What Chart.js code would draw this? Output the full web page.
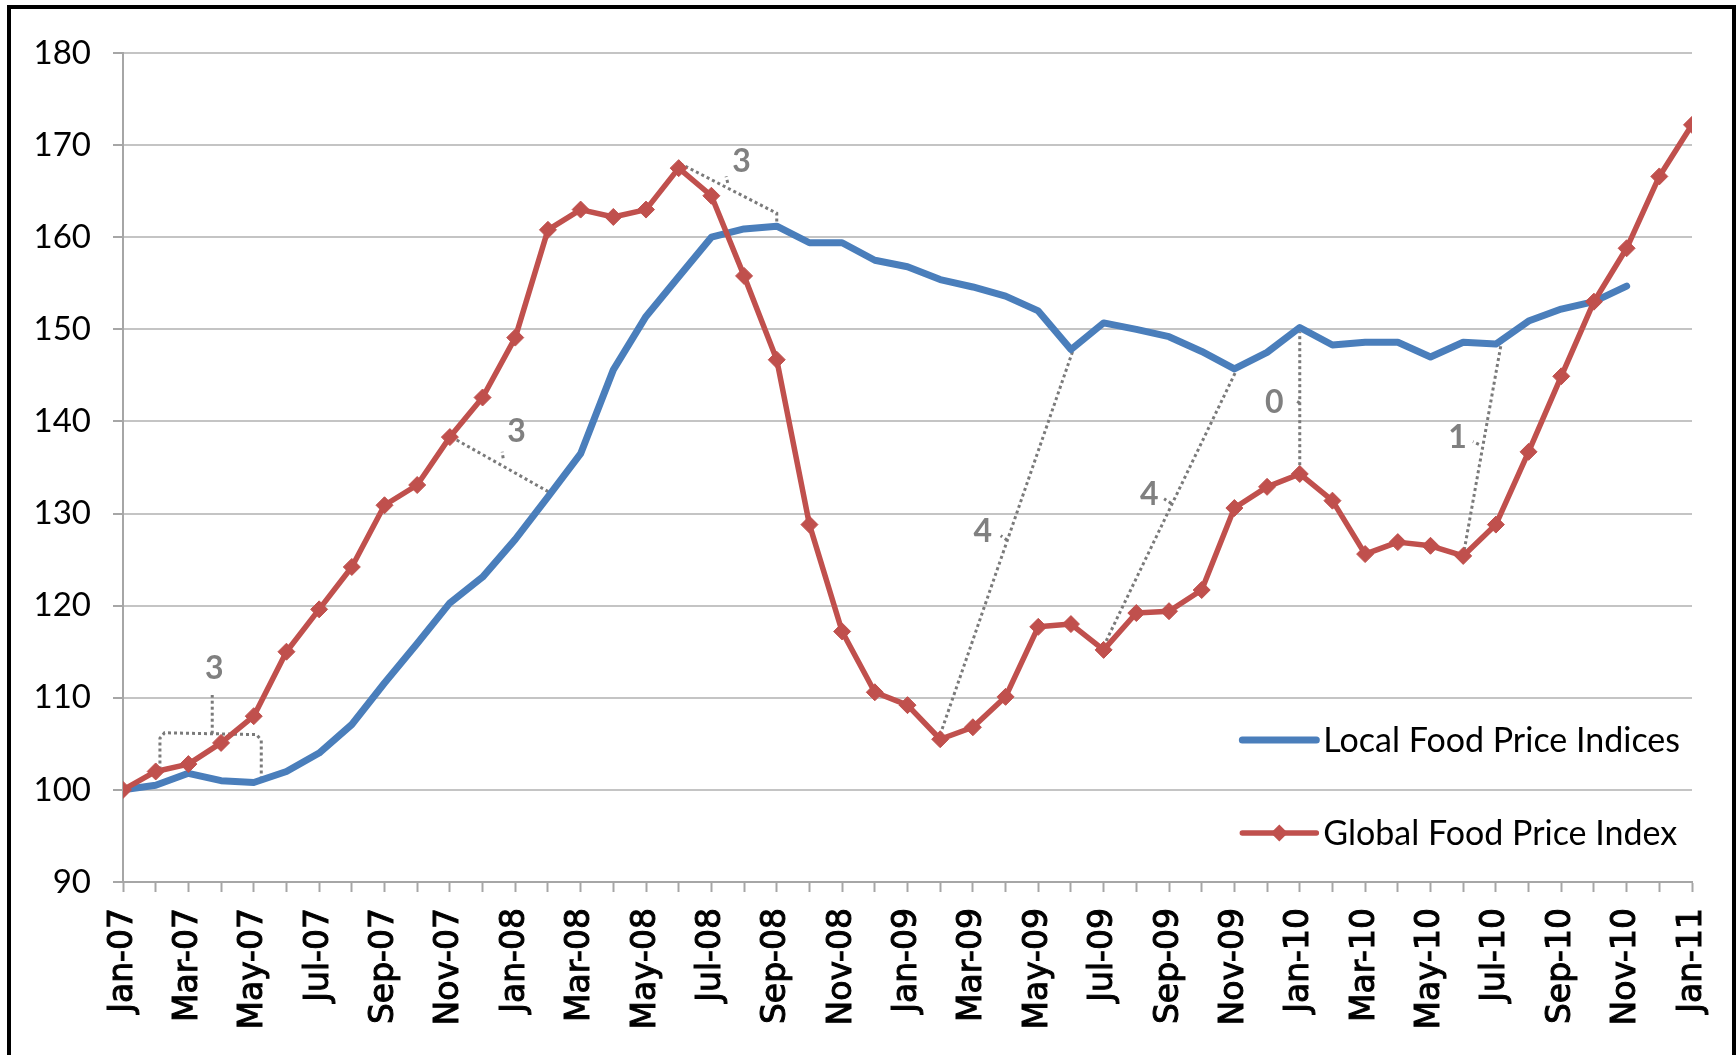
<!DOCTYPE html>
<html><head><meta charset="utf-8">
<script src="https://cdn.jsdelivr.net/npm/chart.js@4.4.1/dist/chart.umd.min.js"></script>
<style>
html,body{margin:0;padding:0;background:#fff;overflow:hidden;width:1736px;height:1055px;}
#frame{position:absolute;left:7px;top:5px;width:1721px;height:1100px;border:4px solid #000;}
#c{position:absolute;left:0;top:0;}
</style></head><body>
<div id="frame"></div>
<canvas id="c" width="1736" height="1055"></canvas>
<script>
// ---- data ----
const months = ['Jan-07','Feb-07','Mar-07','Apr-07','May-07','Jun-07','Jul-07','Aug-07','Sep-07','Oct-07','Nov-07','Dec-07',
  'Jan-08','Feb-08','Mar-08','Apr-08','May-08','Jun-08','Jul-08','Aug-08','Sep-08','Oct-08','Nov-08','Dec-08',
  'Jan-09','Feb-09','Mar-09','Apr-09','May-09','Jun-09','Jul-09','Aug-09','Sep-09','Oct-09','Nov-09','Dec-09',
  'Jan-10','Feb-10','Mar-10','Apr-10','May-10','Jun-10','Jul-10','Aug-10','Sep-10','Oct-10','Nov-10','Dec-10',
  'Jan-11'];
const seriesNames = ['Local Food Price Indices','Global Food Price Index'];
const localIndex = [100,100.5,101.8,101.0,100.8,102.0,104.0,107.1,111.6,115.9,120.3,123.1,
  127.2,131.8,136.5,145.6,151.4,155.7,160.0,160.9,161.2,159.4,159.4,157.5,
  156.8,155.4,154.6,153.6,152.0,147.8,150.7,150.0,149.2,147.6,145.7,147.5,
  150.2,148.3,148.6,148.6,147.0,148.6,148.4,150.9,152.2,153.0,154.7];
const globalIndex = [100,102.0,102.8,105.1,108.0,115.0,119.6,124.2,130.9,133.1,138.3,142.6,
  149.1,160.8,163.0,162.2,163.0,167.5,164.5,155.8,146.7,128.8,117.2,110.6,
  109.2,105.5,106.8,110.1,117.7,118.0,115.2,119.2,119.4,121.7,130.6,132.9,
  134.3,131.4,125.6,126.9,126.5,125.4,128.8,136.7,144.9,153.0,158.8,166.6,
  172.2];
// lag annotations (month index, index value)
const lagLabels = ['3','3','3','4','4','0','1'];
const lagLabelAt = [[2.79,113.2],[12.04,138.9],[18.92,168.2],[26.3,128.0],[31.4,132.0],[35.22,142.0],[40.83,138.2]];
const lagPaths = [
  [[1.13,102.2],[1.13,105.6],[1.27,106.2],[4.08,106.0],[4.23,105.4],[4.23,101.3]],
  [[10.05,138.3],[13.1,132.2]],
  [[17.04,168.0],[20.0,162.6],[20.0,161.6]],
  [[25.0,106.0],[29.1,148.1]],
  [[30.0,115.6],[34.15,146.2]],
  [[36.0,134.6],[36.0,149.7]],
  [[41.0,125.4],[42.17,148.6]]
];
const lagTicks = [
  [[2.73,106.1],[2.73,110.3]],
  [[11.63,136.0],[11.6,136.7]],
  [[18.5,165.9],[18.45,166.6]],
  [[27.05,127.1],[26.85,127.6]],
  [[32.07,131.1],[31.85,131.6]],
  [[36.0,142.0],[35.85,142.3]],
  [[41.48,137.5],[41.3,137.8]]
];

// ---- styles ----
const RED = '#c0504d', BLUE = '#4a7ebb', LAG = '#7a7a7a';
const toPts = arr => arr.map((v,i)=>({x:i,y:v}));
const toXY = arr => arr.map(([x,y])=>({x,y}));

const datasets = [
  {label: seriesNames[1], data: toPts(globalIndex), borderColor: RED, backgroundColor: RED,
   borderWidth: 5.5, borderJoinStyle:'round', pointStyle:'rectRot', pointRadius: 8.5,
   pointBackgroundColor: RED, pointBorderColor: RED, pointBorderWidth: 1, order: 0, tension: 0},
  {label: seriesNames[0], data: toPts(localIndex), borderColor: BLUE, backgroundColor: BLUE,
   borderWidth: 7, borderJoinStyle:'round', borderCapStyle:'round', pointRadius: 0, order: 1, tension: 0}
];
lagPaths.concat(lagTicks).forEach(p => datasets.push({
  label: '', data: toXY(p), borderColor: LAG, borderWidth: 3, borderDash: [3, 3],
  pointRadius: 0, order: 2, tension: 0, isLag: true
}));

const lagTextPlugin = {
  id: 'lagText',
  afterDatasetsDraw(chart) {
    const {ctx, scales} = chart;
    ctx.save();
    ctx.font = 'bold 32px Lato';
    ctx.fillStyle = '#808080';
    ctx.textAlign = 'center';
    ctx.textBaseline = 'middle';
    lagLabels.forEach((t, k) => {
      ctx.fillText(t, scales.x.getPixelForValue(lagLabelAt[k][0]), scales.y.getPixelForValue(lagLabelAt[k][1]));
    });
    ctx.restore();
  }
};

const legendPlugin = {
  id: 'insideLegend',
  afterDraw(chart) {
    const {ctx, chartArea} = chart;
    ctx.save();
    ctx.font = '34px Lato';
    ctx.textBaseline = 'middle';
    ctx.fillStyle = '#000';
    const rows = [
      {ds: chart.data.datasets[1], y: chartArea.bottom - 142},
      {ds: chart.data.datasets[0], y: chartArea.bottom - 49}
    ];
    const w = Math.max(...rows.map(r => ctx.measureText(r.ds.label).width));
    const tx = chartArea.right - 12 - w;
    rows.forEach(r => {
      ctx.strokeStyle = r.ds.borderColor;
      ctx.lineWidth = r.ds.borderWidth;
      ctx.lineCap = 'round';
      ctx.beginPath();
      ctx.moveTo(tx - 81, r.y);
      ctx.lineTo(tx - 7, r.y);
      ctx.stroke();
      if (r.ds.pointRadius > 0) {
        const cx = tx - 44, s = r.ds.pointRadius;
        ctx.fillStyle = r.ds.pointBackgroundColor;
        ctx.beginPath();
        ctx.moveTo(cx, r.y - s); ctx.lineTo(cx + s, r.y); ctx.lineTo(cx, r.y + s); ctx.lineTo(cx - s, r.y);
        ctx.closePath(); ctx.fill();
      }
      ctx.fillStyle = '#000';
      ctx.fillText(r.ds.label, tx, r.y + 1);
    });
    ctx.restore();
  }
};

new Chart(document.getElementById('c'), {
  type: 'line',
  data: {datasets},
  plugins: [lagTextPlugin, legendPlugin],
  options: {
    responsive: false,
    animation: false,
    devicePixelRatio: 1,
    layout: {padding: {top: 53, right: 44, left: 0, bottom: 0}},
    plugins: {legend: {display: false}, tooltip: {enabled: false}},
    scales: {
      x: {
        type: 'linear', min: 0, max: months.length - 1,
        afterFit: s => { s.height = 173; s.paddingRight = 0; s.paddingLeft = 0; },
        ticks: {
          stepSize: 1, autoSkip: false, maxRotation: 90, minRotation: 90, padding: 16,
          color: '#000', font: {family: '"DejaVu Sans"', size: 33},
          textStrokeColor: '#000', textStrokeWidth: 1,
          callback: v => { const i = Math.round(v); return i % 2 === 0 ? months[i] : ''; }
        },
        grid: {drawOnChartArea: false, drawTicks: true, tickLength: 10, tickColor: '#a6a6a6', tickWidth: 2},
        border: {display: true, color: '#a6a6a6', width: 2}
      },
      y: {
        min: 90, max: 180,
        afterFit: s => { s.width = 123; },
        ticks: {stepSize: 10, padding: 22, color: '#000', font: {family: 'Lato', size: 33}},
        grid: {color: '#c4c4c4', lineWidth: 2, drawTicks: true, tickLength: 10, tickColor: '#a6a6a6', tickWidth: 2},
        border: {display: true, color: '#a6a6a6', width: 2}
      }
    }
  }
});
</script>
</body></html>
